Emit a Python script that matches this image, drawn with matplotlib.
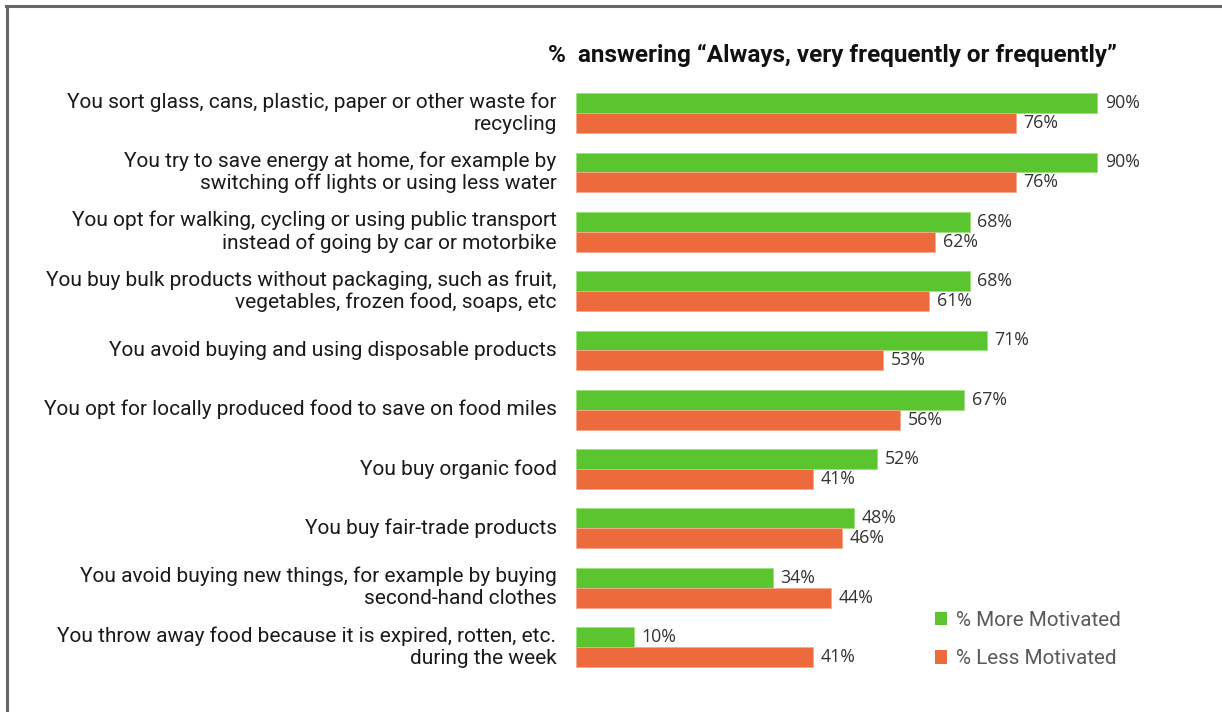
import matplotlib
matplotlib.use("Agg")
import matplotlib.pyplot as plt
from matplotlib.patches import Patch
from matplotlib.lines import Line2D
import numpy as np

categories = [
    "You sort glass, cans, plastic, paper or other waste for\nrecycling",
    "You try to save energy at home, for example by\nswitching off lights or using less water",
    "You opt for walking, cycling or using public transport\ninstead of going by car or motorbike",
    "You buy bulk products without packaging, such as fruit,\nvegetables, frozen food, soaps, etc",
    "You avoid buying and using disposable products",
    "You opt for locally produced food to save on food miles",
    "You buy organic food",
    "You buy fair-trade products",
    "You avoid buying new things, for example by buying\nsecond-hand clothes",
    "You throw away food because it is expired, rotten, etc.\nduring the week",
]
more_motivated = [90, 90, 68, 68, 71, 67, 52, 48, 34, 10]
less_motivated = [76, 76, 62, 61, 53, 56, 41, 46, 44, 41]
series_names = ["% More Motivated", "% Less Motivated"]
title = "%  answering \u201cAlways, very frequently or frequently\u201d"

GREEN = "#5BC530"
ORANGE = "#EC6A3B"

W, H = 1222, 712
fig = plt.figure(figsize=(W / 100, H / 100), dpi=100)
fig.patch.set_facecolor("white")

# frame lines along top and left edge
fig.add_artist(Line2D([6 / W, 1], [1 - 5.5 / H, 1 - 5.5 / H], color="#666666", lw=2.2,
                      transform=fig.transFigure))
fig.add_artist(Line2D([6.5 / W, 6.5 / W], [0, 1 - 5.5 / H], color="#666666", lw=2.2,
                      transform=fig.transFigure))

ax_left, ax_right = 576, 1155
ax_top, ax_bot = 83.4, 676.7
ax = fig.add_axes([ax_left / W, 1 - ax_bot / H, (ax_right - ax_left) / W, (ax_bot - ax_top) / H])

y = np.arange(len(categories))
h = 0.335
ax.barh(y - h / 2, more_motivated, height=h, color=GREEN, edgecolor="#9BE07A", linewidth=0.6)
ax.barh(y + h / 2, less_motivated, height=h, color=ORANGE, edgecolor="#F5A98C", linewidth=0.6)

ax.set_xlim(0, 100)
ax.set_ylim(len(categories) - 0.5, -0.5)
ax.axis("off")

val_font = dict(family="Open Sans", fontsize=12.8, color="#333333", va="center", ha="left")
for i, (m, l) in enumerate(zip(more_motivated, less_motivated)):
    ax.annotate(f"{m}%", (m, i - h / 2), xytext=(5.5, 0), textcoords="offset points", **val_font)
    ax.annotate(f"{l}%", (l, i + h / 2), xytext=(5.5, 0), textcoords="offset points", **val_font)

for i, cat in enumerate(categories):
    ax.annotate(cat, (0, i), xytext=(-14, 0), textcoords="offset points",
                ha="right", va="center", multialignment="right",
                family="Roboto", fontsize=15.0, color="#1a1a1a", linespacing=1.2)

fig.text(548 / W, 1 - 55 / H, title, family="Roboto", fontweight="bold", fontsize=17.5,
         color="#111111", ha="left", va="center")

handles = [Patch(facecolor=GREEN, edgecolor="none"), Patch(facecolor=ORANGE, edgecolor="none")]
fig.legend(handles, series_names, loc="center left", bbox_to_anchor=(916 / W, 1 - 639.5 / H),
           frameon=False, handlelength=0.6, handleheight=0.6, handletextpad=0.45,
           labelspacing=0.95, prop=dict(family="Roboto", size=14.9), labelcolor="#595959")

fig.savefig("out.png", dpi=100, facecolor="white")
